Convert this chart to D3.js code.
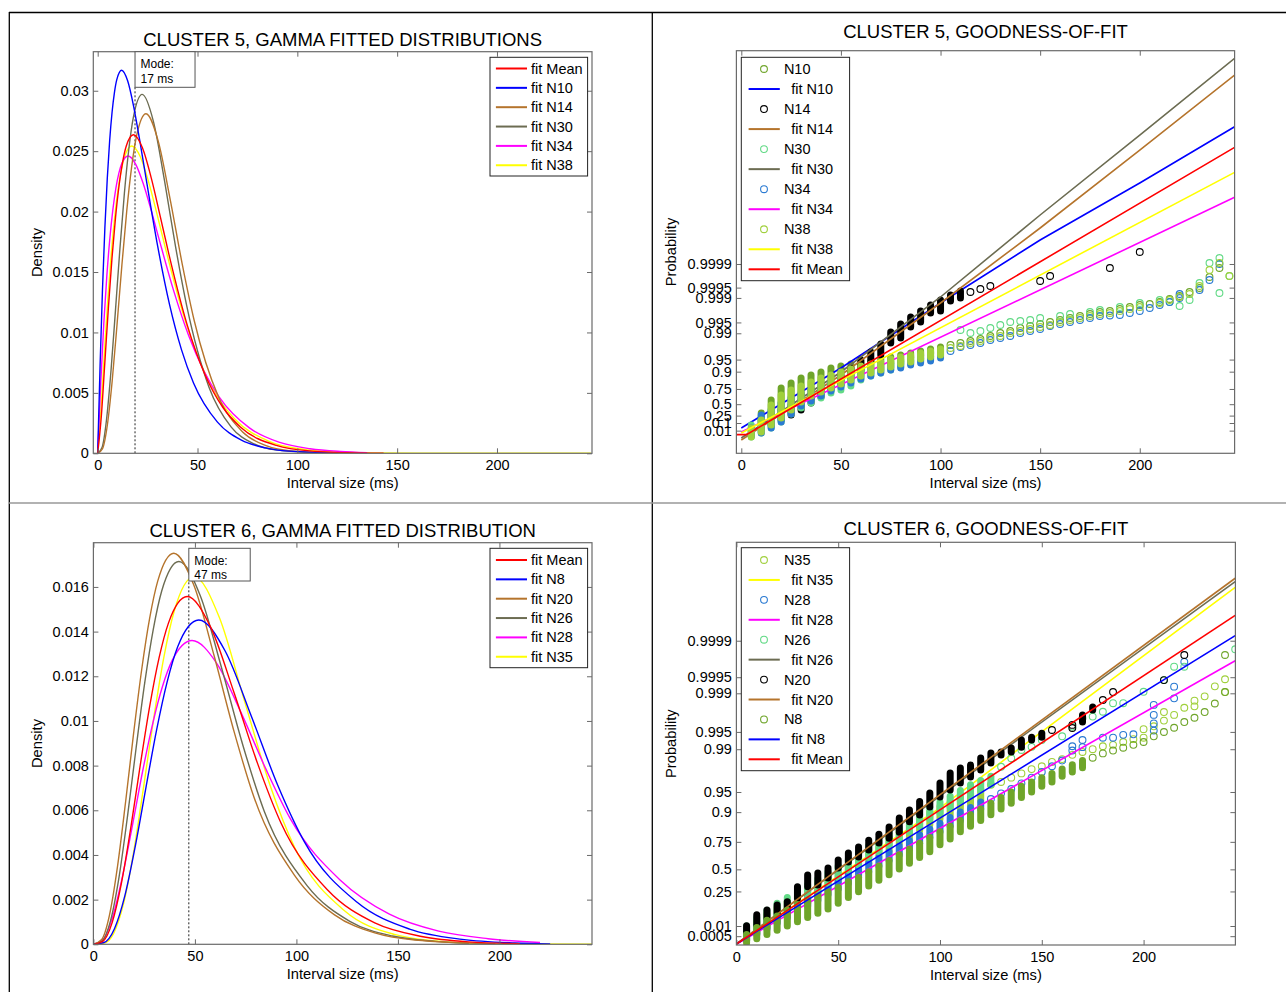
<!DOCTYPE html>
<html><head><meta charset="utf-8">
<script src="https://cdn.jsdelivr.net/npm/d3@7"></script>
<style>body{margin:0;background:#fff}svg{display:block}</style>
</head><body><svg id="c" width="1286" height="992"></svg>
<script>
// ================= DATA =================
const xTicks=[0,50,100,150,200];
const densTicksC5=[0,0.005,0.01,0.015,0.02,0.025,0.03];
const densTicksC6=[0,0.002,0.004,0.006,0.008,0.01,0.012,0.014,0.016];
const probTicksC5=[0.01,0.1,0.25,0.5,0.75,0.9,0.95,0.99,0.995,0.999,0.9995,0.9999];
const probTicksC6=[0.0005,0.01,0.25,0.5,0.75,0.9,0.95,0.99,0.995,0.999,0.9995,0.9999];
const refShapeC5=2.75, refShapeC6=4.55; // shape of the reference gamma used by the probability axis
const modeC5={line:18.7,label:"17 ms"};
const modeC6={line:47,label:"47 ms"};

// ---- Cluster 5 fitted densities [ms, density]
const c5FitMean=[[0,0],[1.79,0.003],[3.58,0.00752],[5.37,0.01207],[7.16,0.01615],[8.95,0.01954],[10.74,0.0222],[12.53,0.02414],[14.32,0.02543],[17.9,0.02636],[22.4,0.02528],[26.85,0.02277],[31.3,0.01963],[35.8,0.01638],[44.75,0.01067],[53.7,0.00652],[62.65,0.00381],[71.6,0.00216],[89.5,0.00065],[107.4,0.00018],[125.3,0.00005],[143.2,0.00001]];
const c5FitN10=[[0,0],[1.2,0.00727],[2.4,0.01355],[3.6,0.01867],[4.8,0.02274],[6,0.02588],[7.2,0.02822],[8.4,0.02987],[9.6,0.03094],[12,0.0317],[15,0.03082],[18,0.02871],[21,0.02595],[24,0.02297],[30,0.01718],[36,0.0123],[42,0.00856],[48,0.00582],[60,0.00258],[72,0.00109],[84,0.00045],[96,0.00018],[120,0.00003]];
const c5FitN14=[[0,0],[2.42,0.00038],[4.84,0.00234],[7.26,0.00598],[9.68,0.01064],[12.1,0.01553],[14.52,0.02],[16.94,0.02361],[19.36,0.02618],[24.2,0.0281],[30.25,0.02587],[36.3,0.02102],[42.35,0.01566],[48.4,0.01095],[60.5,0.00468],[72.6,0.00177],[84.7,0.00061],[96.8,0.0002],[121,0.00002]];
const c5FitN30=[[0,0],[2.23,0.00051],[4.46,0.00284],[6.69,0.00689],[8.92,0.01187],[11.15,0.01697],[13.38,0.02154],[15.61,0.0252],[17.84,0.02778],[22.3,0.0297],[27.9,0.02747],[33.45,0.02258],[39,0.0171],[44.6,0.0122],[55.75,0.00547],[66.9,0.00217],[78.05,0.0008],[89.2,0.00028],[111.5,0.00003]];
const c5FitN34=[[0,0],[1.52,0.0058],[3.04,0.01069],[4.56,0.01464],[6.08,0.01776],[7.6,0.02016],[9.12,0.02195],[10.64,0.0232],[12.16,0.02402],[15.2,0.0246],[19,0.02393],[22.8,0.02232],[26.6,0.02022],[30.4,0.01793],[38,0.01348],[45.6,0.00972],[53.2,0.00681],[60.8,0.00467],[76,0.0021],[91.2,0.0009],[106.4,0.00038],[121.6,0.00015],[135,0.00005]];
const c5FitN38=[[0,0],[1.71,0.00383],[3.42,0.00853],[5.13,0.01288],[6.84,0.01659],[8.55,0.01959],[10.26,0.0219],[11.97,0.02356],[13.68,0.02465],[17.1,0.02543],[21.4,0.02452],[25.65,0.02238],[29.9,0.01966],[34.2,0.0168],[42.75,0.01157],[51.3,0.00753],[59.85,0.00472],[68.4,0.00288],[85.5,0.00101],[102.6,0.00033],[119.7,0.00011],[136.8,0.00003],[170,0],[247,0]];

// ---- Cluster 6 fitted densities [ms, density]
const c6FitMean=[[0,0],[4.62,0.00013],[9.24,0.00097],[13.86,0.00276],[18.48,0.00526],[23.1,0.00803],[27.72,0.01065],[32.34,0.01282],[36.96,0.01438],[46.2,0.01557],[57.75,0.0142],[69.3,0.01126],[80.85,0.0081],[92.4,0.00543],[115.5,0.00242],[138.6,0.00096],[161.7,0.00035],[184.8,0.00011],[210,0.00003]];
const c6FitN8=[[0,0],[5.19,0.00008],[10.38,0.0007],[15.57,0.0022],[20.76,0.00445],[25.95,0.00705],[31.14,0.0096],[36.33,0.01175],[41.52,0.01332],[51.9,0.01452],[64.9,0.01313],[77.85,0.0102],[90.8,0.00712],[103.8,0.00461],[129.75,0.00189],[155.7,0.00068],[181.65,0.00022],[207.6,0.00006],[225,0.00002]];
const c6FitN20=[[0,0],[3.96,0.0002],[7.92,0.00131],[11.88,0.00349],[15.84,0.00636],[19.8,0.00944],[23.76,0.01228],[27.72,0.0146],[31.68,0.01626],[39.6,0.01751],[49.5,0.01607],[59.4,0.01294],[69.3,0.00952],[79.2,0.00656],[99,0.0031],[118.8,0.00132],[138.6,0.00051],[158.4,0.00019],[198,0.00002]];
const c6FitN26=[[0,0],[4.21,0.00014],[8.42,0.00105],[12.63,0.00301],[16.84,0.00576],[21.05,0.0088],[25.26,0.01169],[29.47,0.01409],[33.68,0.01583],[42.1,0.01714],[52.6,0.01562],[63.15,0.01237],[73.7,0.00889],[84.2,0.00595],[105.25,0.00263],[126.3,0.00103],[147.35,0.00037],[168.4,0.00013],[185,0.00004]];
const c6FitN28=[[0,0],[4.86,0.00023],[9.72,0.0013],[14.58,0.00315],[19.44,0.00543],[24.3,0.00777],[29.16,0.00986],[34.02,0.01154],[38.88,0.01272],[48.6,0.0136],[60.75,0.01258],[72.9,0.01034],[85.05,0.00783],[97.2,0.00559],[121.5,0.00288],[145.8,0.00135],[170.1,0.00059],[194.4,0.00025],[220,0.00008]];
const c6FitN35=[[0,0],[4.96,0.00004],[9.92,0.00048],[14.88,0.00183],[19.84,0.00414],[24.8,0.00709],[29.76,0.01015],[34.72,0.01286],[39.68,0.01488],[49.6,0.01646],[62,0.01464],[74.4,0.0109],[86.8,0.00718],[99.2,0.00432],[124,0.00148],[148.8,0.00043],[173.6,0.00011],[198.4,0.00002],[246,0]];

// ---- Cluster 5 goodness-of-fit. Ordinate = probability-plot score (0 at p=0.01, 100 at p=0.9999)
// stacks: [ms, scoreLow, scoreHigh] (many tied observations); points: [ms, score]
const c5N10Stacks=[[10,5.2,10.6],[15,10.6,18.4],[20,12.4,25.6],[25,18.4,28.6],[30,20.8,31.6],[35,24.4,33.4],[40,28.0,35.2],[45,31.0,37.6],[50,32.8,38.8],[55,35.2,40.0],[60,36.4,41.2],[65,37.6,41.8],[70,39.4,43.0],[75,40.6,44.2],[80,41.8,45.4],[85,43.6,46.6],[90,44.8,47.8],[95,46.0,49.0],[100,47.2,50.2]];
const c5N10Points=[[105,51.4],[110,52.6],[115,53.8],[120,55.0],[125,56.8],[130,58.6],[135,59.8],[140,61.6],[145,62.8],[150,64.0],[155,65.2],[160,66.4],[165,67.6],[170,68.8],[175,70.0],[180,71.2],[185,71.8],[190,73.0],[195,74.2],[200,75.4],[205,76.0],[210,77.2],[215,79.0],[220,80.8],[225,83.2],[230,85.6],[235,92.2],[240,97.6]];
const c5N14Stacks=[[15,3.4,9.4],[20,6.4,12.4],[25,9.4,15.4],[30,12.4,18.4],[35,16.6,22.0],[40,20.2,25.0],[45,24.4,28.0],[50,27.4,32.8],[55,31.6,37.6],[60,35.8,42.4],[65,41.2,47.2],[70,45.4,52.0],[75,52.6,59.2],[80,55.6,64.0],[85,62.2,68.2],[90,65.2,71.8],[95,70.6,75.4],[100,71.8,78.4],[105,77.8,81.4],[110,79.6,83.8]];
const c5N14Points=[[115,83.2],[120,85.0],[125,86.8],[150,89.8],[155,92.8],[185,97.6],[200,107.2]];
const c5N30Stacks=[[5,-3.8,3.4],[10,-1.4,7.6],[15,1.6,12.4],[20,5.2,16.6],[25,10.0,19.6],[30,13.6,22.0],[35,16.6,24.4],[40,19.6,26.8],[45,22.6,29.2],[50,24.4,32.2],[55,26.8,34.0],[60,30.4,36.4],[65,32.8,37.6],[70,34.6,39.4],[75,36.4,41.2],[80,38.2,42.4],[85,40.0,44.2],[90,41.8,45.4],[95,43.0,47.2],[100,44.8,48.4]];
const c5N30Points=[[110,60.4],[115,58.6],[120,59.8],[125,61.6],[130,63.4],[135,65.2],[140,65.8],[145,66.4],[150,67.6],[160,68.8],[165,70.0],[175,71.2],[180,72.4],[190,74.2],[200,76.6],[210,78.4],[215,77.2],[220,74.8],[225,78.4],[230,88.6],[235,100.6],[240,103.6],[240,82.6],[245,92.8]];
const c5N34Stacks=[[5,-3.2,1.6],[10,-1.4,9.4],[15,1.6,12.4],[20,5.2,16.6],[25,10.0,19.6],[30,14.8,22.6],[35,17.8,25.0],[40,20.8,26.8],[45,23.8,29.2],[50,26.2,31.6],[55,28.6,33.4],[60,31.0,35.2],[65,32.8,37.0],[70,34.6,38.2],[75,36.4,40.0],[80,37.6,41.2],[85,39.4,42.4],[90,40.6,43.6],[95,41.8,44.8],[100,43.6,46.6]];
const c5N34Points=[[105,47.8],[110,50.2],[115,51.4],[120,52.6],[125,54.4],[130,55.6],[135,56.8],[140,58.6],[145,59.8],[150,61.0],[155,62.8],[160,64.0],[165,65.2],[170,66.4],[175,67.6],[180,68.8],[185,69.1],[190,69.4],[195,70.6],[200,71.8],[205,73.6],[210,75.4],[215,77.2],[220,79.6],[220,82.0],[230,84.4],[235,90.4],[240,100.0]];
const c5N38Stacks=[[5,-3.8,1.6],[10,-0.8,6.4],[15,3.4,15.4],[20,7.6,21.4],[25,12.4,24.4],[30,17.2,26.8],[35,20.8,29.2],[40,23.2,31.6],[45,25.6,33.4],[50,28.0,35.2],[55,30.4,37.0],[60,32.8,38.8],[65,34.6,40.0],[70,36.4,41.2],[75,38.2,43.0],[80,40.0,44.2],[85,41.2,45.4],[90,43.0,46.6],[95,44.2,47.8],[100,45.4,49.0]];
const c5N38Points=[[105,49.6],[110,50.8],[115,52.6],[120,53.8],[125,55.6],[130,56.8],[135,58.6],[140,59.8],[145,61.0],[150,62.2],[155,63.4],[160,65.2],[165,66.4],[170,67.6],[175,68.8],[180,70.0],[185,70.6],[190,71.8],[195,73.0],[200,74.2],[210,76.6],[215,78.4],[220,80.2],[225,82.0],[230,86.8],[235,96.4],[240,100.6],[245,92.8]];
const c5LineN10=[[0,1.6],[50,37.6],[100,76.6],[150,114.4],[200,148.6],[247.6,182.4]];
const c5LineN14=[[0,-5.6],[50,33.4],[100,76.6],[150,121.6],[200,168.4],[247.6,213.4]];
const c5LineN30=[[0,-4.4],[50,35.2],[100,80.2],[150,129.4],[200,177.4],[247.6,223.4]];
const c5LineN34=[[0,-0.8],[247.6,140.0]];
const c5LineN38=[[0,-1.4],[247.6,155.0]];
const c5LineMean=[[-2.5,-2.4],[2.6,-2.4],[247.6,170.0]];

// ---- Cluster 6 goodness-of-fit
const c6N35Stacks=[[5,-5.0,-1.5],[10,-2.5,1.5],[15,-0.5,4.0],[20,1.5,6.5],[25,3.5,8.5],[30,5.5,10.5],[35,8.0,12.5],[40,10.5,15.0],[45,13.0,17.0],[50,15.0,19.5],[55,17.5,21.5],[60,19.5,24.0],[65,22.0,26.5],[70,24.5,28.5],[75,26.5,31.0],[80,29.0,33.0],[85,31.0,35.5],[90,33.5,37.5],[95,35.5,40.0],[100,37.5,42.0],[105,39.0,43.5],[110,41.0,45.0],[115,42.5,46.5],[120,44.0,48.0]];
const c6N35Points=[[125,49.5],[130,50.5],[135,52.0],[140,53.5],[145,55.0],[150,56.0],[155,57.5],[160,58.5],[165,60.0],[170,61.0],[175,62.0],[180,63.0],[185,63.5],[190,64.5],[195,65.5],[200,66.0],[200,69.0],[205,70.0],[210,72.0],[210,75.0],[215,74.0],[220,76.5],[225,77.0],[225,79.0],[230,80.5],[235,84.0],[240,86.5],[240,82.0]];
const c6N28Stacks=[[5,-5.0,-2.5],[10,-3.0,0.0],[15,-1.0,2.0],[20,1.0,4.0],[25,3.0,6.0],[30,5.0,8.0],[35,7.0,10.0],[40,9.0,12.0],[45,11.0,14.0],[50,13.0,16.0],[55,15.0,18.0],[60,17.0,20.0],[65,19.0,22.0],[70,21.0,24.0],[75,23.0,26.0],[80,25.0,28.0],[85,27.0,30.0],[90,29.0,32.0],[95,31.0,34.0],[100,33.0,36.0],[105,35.0,38.0],[110,37.0,40.0],[115,39.0,41.5],[120,41.0,43.5]];
const c6N28Points=[[125,44.5],[130,46.5],[135,48.0],[140,50.0],[145,52.0],[150,54.0],[155,56.0],[160,58.0],[165,61.5],[165,63.0],[170,62.7],[170,65.2],[180,66.0],[185,66.0],[190,67.0],[195,67.2],[205,68.5],[205,71.0],[205,74.0],[205,77.5],[215,79.8],[215,83.9],[220,92.6]];
const c6N26Stacks=[[5,-3.5,0.0],[10,-1.0,3.0],[15,1.5,5.5],[20,3.5,8.0],[25,5.5,10.0],[30,8.0,12.0],[35,10.5,14.5],[40,12.5,16.5],[45,15.0,19.0],[50,17.0,21.0],[55,19.5,23.5],[60,21.5,25.5],[65,24.0,28.0],[70,26.0,30.0],[75,28.5,32.5],[80,30.5,34.5],[85,33.0,37.0],[90,35.0,39.0],[95,37.5,41.5],[100,39.5,43.5],[105,41.5,45.5],[110,43.5,47.5],[115,45.5,49.5],[120,47.5,51.0],[125,49.5,52.5]];
const c6N26Points=[[130,55.8],[135,58.8],[140,61.7],[145,62.8],[150,65.2],[160,66.5],[165,69.9],[170,72.8],[175,73.4],[180,75.1],[185,78.1],[190,78.1],[200,82.1],[210,86.2],[215,90.9],[220,90.9],[245,97.0]];
const c6N20Stacks=[[5,-2.0,0.1],[10,0.4,3.9],[15,2.8,5.6],[20,4.6,7.4],[25,6.2,8.5],[30,9.7,13.8],[35,13.8,17.9],[40,14.4,18.6],[45,16.8,20.3],[50,20.3,23.1],[55,22.4,25.6],[60,24.2,27.7],[65,26.6,30.1],[70,29.1,32.2],[75,30.8,34.7],[80,32.9,37.9],[85,36.5,40.7],[90,38.9,43.6],[95,41.7,46.6],[100,45.2,50.1],[105,47.7,53.6],[110,50.1,55.4],[115,52.2,56.4],[120,54.7,58.9],[125,57.1,60.6],[130,59.9,61.0],[135,61.0,62.4],[140,62.7,65.2],[145,65.2,66.2],[150,66.2,67.6],[170,71.5,74.0],[175,75.7,76.8]];
const c6N20Points=[[155,68.7],[165,69.4],[165,70.5],[180,79.2],[185,82.0],[210,86.2],[220,95.0]];
const c6N8Stacks=[[5,-6.0,-3.0],[10,-4.5,-0.5],[15,-3.0,2.0],[20,-1.5,3.5],[25,0.0,5.5],[30,1.5,7.5],[35,3.0,9.0],[40,4.5,10.5],[45,6.0,12.0],[50,8.0,13.5],[55,10.0,15.5],[60,12.0,17.0],[65,14.0,19.0],[70,16.0,21.0],[75,18.0,23.0],[80,20.0,25.0],[85,22.0,27.0],[90,24.0,29.0],[95,26.0,31.0],[100,28.5,33.0],[105,30.5,35.0],[110,33.0,37.0],[115,35.0,39.0],[120,37.0,41.0],[125,39.0,43.0],[130,41.0,45.0],[135,43.0,47.0],[140,45.0,49.0],[145,47.0,50.5],[150,49.0,52.0],[155,50.5,53.5],[160,52.5,55.0],[165,54.0,56.5],[170,55.5,58.0]];
const c6N8Points=[[175,59.0],[180,60.5],[185,61.5],[190,62.5],[195,63.5],[200,64.5],[205,66.5],[210,68.0],[215,69.5],[220,71.5],[225,73.0],[230,75.0],[235,78.0],[240,82.0],[240,95.0]];
const c6LineN35=[[0,-6.3],[100,41.4],[245,118.7]];
const c6LineN28=[[0,-6.3],[245,93.0]];
const c6LineN26=[[0,-6.3],[245,120.7]];
const c6LineN20=[[0,-6.3],[245,121.9]];
const c6LineN8=[[0,-6.3],[245,101.8]];
const c6LineMean=[[0,-6.3],[245,108.9]];

// ================= STYLE =================
const FONT='Arial, "Liberation Sans", sans-serif';
const AX='#6a6a6a';
const C={red:'#ff0000',blue:'#0000ff',brown:'#b5742c',olive:'#6c6c52',magenta:'#ff00ff',yellow:'#ffff00',
  mOlive:'#6fa52a',mLight:'#62da86',mYG:'#a0d03c',mBlue:'#2a7ad2',mBlack:'#000000'};

// ================= GAMMA (probability axis) =================
function lnGamma(x){const c=[0.99999999999980993,676.5203681218851,-1259.1392167224028,771.32342877765313,-176.61502916214059,12.507343278686905,-0.13857109526572012,9.9843695780195716e-6,1.5056327351493116e-7];
  if(x<0.5)return Math.log(Math.PI/Math.sin(Math.PI*x))-lnGamma(1-x);x-=1;let a=c[0];const t=x+7.5;for(let i=1;i<9;i++)a+=c[i]/(x+i);
  return 0.5*Math.log(2*Math.PI)+(x+0.5)*Math.log(t)-t+Math.log(a);}
function gammaP(a,x){if(x<=0)return 0;const lf=-x+a*Math.log(x)-lnGamma(a);
  if(x<a+1){let ap=a,sum=1/a,del=sum;for(let n=0;n<1000;n++){ap+=1;del*=x/ap;sum+=del;if(Math.abs(del)<Math.abs(sum)*1e-16)break;}return sum*Math.exp(lf);}
  let b=x+1-a,c=1e300,d=1/b,h=d;for(let i=1;i<1000;i++){const an=-i*(i-a);b+=2;d=an*d+b;if(Math.abs(d)<1e-300)d=1e-300;c=b+an/c;if(Math.abs(c)<1e-300)c=1e-300;d=1/d;const del=d*c;h*=del;if(Math.abs(del-1)<1e-16)break;}
  return 1-Math.exp(lf)*h;}
function gammaInv(p,a){let lo=0,hi=200;for(let i=0;i<200;i++){const m=(lo+hi)/2;if(gammaP(a,m)<p)lo=m;else hi=m;}return (lo+hi)/2;}
function probScore(p,k){const q0=gammaInv(0.01,k),q1=gammaInv(0.9999,k);return 100*(gammaInv(p,k)-q0)/(q1-q0);}

// ================= DRAW =================
const svg=d3.select('#c');
svg.append('rect').attr('width',1286).attr('height',992).attr('fill','#fff');
const defs=svg.append('defs');
// page frame
svg.append('line').attr('x1',9).attr('x2',1286).attr('y1',12.5).attr('y2',12.5).attr('stroke','#000').attr('stroke-width',1.3);
svg.append('line').attr('x1',9.3).attr('x2',9.3).attr('y1',12).attr('y2',992).attr('stroke','#000').attr('stroke-width',1.3);
svg.append('line').attr('x1',652.3).attr('x2',652.3).attr('y1',12).attr('y2',992).attr('stroke','#000').attr('stroke-width',1.3);
svg.append('line').attr('x1',9).attr('x2',1286).attr('y1',503).attr('y2',503).attr('stroke','#999').attr('stroke-width',1.3);

function txt(g,x,y,s,size,anchor){return g.append('text').attr('x',x).attr('y',y).text(s).attr('font-family',FONT).attr('font-size',size).attr('text-anchor',anchor||'start').attr('fill','#000');}

function drawAxes(g,r,x,y,xVals,yVals,yFmt){
  const ax=[
    g.append('g').attr('transform',`translate(0,${r.y1})`).call(d3.axisBottom(x).tickValues(xVals).tickSize(-5).tickPadding(6.5).tickFormat(d3.format('d'))),
    g.append('g').attr('transform',`translate(0,${r.y0})`).call(d3.axisTop(x).tickValues(xVals).tickSize(-5).tickFormat('')),
    g.append('g').attr('transform',`translate(${r.x0},0)`).call(d3.axisLeft(y).tickValues(yVals).tickSize(-5).tickPadding(4.5).tickFormat(yFmt)),
    g.append('g').attr('transform',`translate(${r.x1},0)`).call(d3.axisRight(y).tickValues(yVals).tickSize(-5).tickFormat(''))];
  ax.forEach(a=>{a.select('.domain').remove();a.selectAll('line').attr('stroke',AX).attr('stroke-width',1);
    a.attr('font-size',null).attr('font-family',null);a.selectAll('text').attr('font-size',14.5).attr('font-family',FONT).attr('fill','#000');});
  g.append('rect').attr('x',r.x0).attr('y',r.y0).attr('width',r.x1-r.x0).attr('height',r.y1-r.y0).attr('fill','none').attr('stroke',AX).attr('stroke-width',1.2);
}
function clip(id,r){defs.append('clipPath').attr('id',id).append('rect').attr('x',r.x0).attr('y',r.y0).attr('width',r.x1-r.x0).attr('height',r.y1-r.y0);return `url(#${id})`;}
function legend(g,box,rows,entries,lineX,textX,circX,circTextX){
  g.append('rect').attr('x',box.x).attr('y',box.y).attr('width',box.w).attr('height',box.h).attr('fill','#fff').attr('stroke','#222').attr('stroke-width',1);
  entries.forEach((e,i)=>{const cy=rows.y0+i*rows.dy;
    if(e.type==='line'){g.append('line').attr('x1',lineX[0]).attr('x2',lineX[1]).attr('y1',cy).attr('y2',cy).attr('stroke',e.color).attr('stroke-width',2);txt(g,textX,cy+5,e.label,14.5);}
    else{g.append('circle').attr('cx',circX).attr('cy',cy).attr('r',3.4).attr('fill','none').attr('stroke',e.color).attr('stroke-width',1.1);txt(g,circTextX,cy+5,e.label,14.5);}
  });
}
const densFmt=d=>d===0?'0':d3.format('~g')(d);

// ---------- density panels ----------
function densityPanel(o){
  const g=svg.append('g');const r=o.r;
  const x=d3.scaleLinear().domain(o.xDom).range([r.x0,r.x1]);
  const y=d3.scaleLinear().domain(o.yDom).range([r.y1,r.y0]);
  const cp=clip(o.id,r);
  const line=d3.line().x(d=>x(d[0])).y(d=>y(d[1])).curve(d3.curveMonotoneX);
  const dg=g.append('g').attr('clip-path',cp);
  // mode marker
  const mx=x(o.mode.line);
  dg.append('line').attr('x1',mx).attr('x2',mx).attr('y1',r.y1).attr('y2',o.modeBox.y+o.modeBox.h).attr('stroke','#222').attr('stroke-width',1).attr('stroke-dasharray','2,2');
  o.series.forEach(s=>dg.append('path').datum(s.data).attr('d',line).attr('fill','none').attr('stroke',s.color).attr('stroke-width',1.4));
  drawAxes(g,r,x,y,xTicks,o.yTicks,densFmt);
  g.append('rect').attr('x',mx).attr('y',o.modeBox.y).attr('width',o.modeBox.w).attr('height',o.modeBox.h).attr('fill','#fff').attr('stroke','#555').attr('stroke-width',1);
  txt(g,mx+5.5,o.modeBox.y+16.5,'Mode:',12);
  txt(g,mx+5.5,o.modeBox.y+31,o.mode.label,12);
  txt(g,(r.x0+r.x1)/2,o.titleY,o.title,18.5,'middle');
  txt(g,(r.x0+r.x1)/2,r.y1+35,'Interval size (ms)',14.7,'middle');
  txt(g,0,0,'Density',14.7,'middle').attr('transform',`translate(41.5,${(r.y0+r.y1)/2})rotate(-90)`);
  legend(g,o.legBox,o.legRows,o.legend,[495.9,527],531);
}

densityPanel({id:'cTL',r:{x0:93.3,x1:592,y0:51.7,y1:453.3},xDom:[-2.2,247.6],yDom:[0,0.03323],yTicks:densTicksC5,
  title:'CLUSTER 5, GAMMA FITTED DISTRIBUTIONS',titleY:45.5,mode:modeC5,modeBox:{y:51.7,w:60,h:35.6},
  series:[{data:c5FitN38,color:C.yellow},{data:c5FitN34,color:C.magenta},{data:c5FitN30,color:C.olive},{data:c5FitN14,color:C.brown},{data:c5FitN10,color:C.blue},{data:c5FitMean,color:C.red}],
  legBox:{x:490,y:57.3,w:97.6,h:118.7},legRows:{y0:68.5,dy:19.35},
  legend:[{type:'line',color:C.red,label:'fit Mean'},{type:'line',color:C.blue,label:'fit N10'},{type:'line',color:C.brown,label:'fit N14'},{type:'line',color:C.olive,label:'fit N30'},{type:'line',color:C.magenta,label:'fit N34'},{type:'line',color:C.yellow,label:'fit N38'}]});

densityPanel({id:'cBL',r:{x0:93.4,x1:592,y0:542.7,y1:944.3},xDom:[0,245.6],yDom:[0,0.01798],yTicks:densTicksC6,
  title:'CLUSTER 6, GAMMA FITTED DISTRIBUTION',titleY:536.5,mode:modeC6,modeBox:{y:548.3,w:61.4,h:32.7},
  series:[{data:c6FitN35,color:C.yellow},{data:c6FitN28,color:C.magenta},{data:c6FitN26,color:C.olive},{data:c6FitN20,color:C.brown},{data:c6FitN8,color:C.blue},{data:c6FitMean,color:C.red}],
  legBox:{x:490,y:548.3,w:97.6,h:119.4},legRows:{y0:560,dy:19.35},
  legend:[{type:'line',color:C.red,label:'fit Mean'},{type:'line',color:C.blue,label:'fit N8'},{type:'line',color:C.brown,label:'fit N20'},{type:'line',color:C.olive,label:'fit N26'},{type:'line',color:C.magenta,label:'fit N28'},{type:'line',color:C.yellow,label:'fit N35'}]});

// ---------- probability panels ----------
function probPanel(o){
  const g=svg.append('g');const r=o.r;
  const x=d3.scaleLinear().domain(o.xDom).range([r.x0,r.x1]);
  const y=d3.scaleLinear().domain(o.yDom).range([r.y1,r.y0]);
  const cp=clip(o.id,r);
  const dg=g.append('g').attr('clip-path',cp);
  const line=d3.line().x(d=>x(d[0])).y(d=>y(d[1]));
  o.layers.forEach(L=>{
    if(L.stacks){dg.append('g').selectAll('line').data(L.stacks).join('line').attr('x1',d=>x(d[0])).attr('x2',d=>x(d[0])).attr('y1',d=>y(d[1])).attr('y2',d=>y(d[2]))
      .attr('stroke',L.color).attr('stroke-width',7).attr('stroke-linecap','round');}
    if(L.points){dg.append('g').selectAll('circle').data(L.points).join('circle').attr('cx',d=>x(d[0])).attr('cy',d=>y(d[1])).attr('r',3.4)
      .attr('fill','none').attr('stroke',L.color).attr('stroke-width',1.1);}
    if(L.line){dg.append('path').datum(L.line).attr('d',line).attr('fill','none').attr('stroke',L.color).attr('stroke-width',1.6);}
  });
  const tv=o.probTicks.map(p=>probScore(p,o.shape));
  const lab=new Map(tv.map((v,i)=>[v,String(o.probTicks[i])]));
  drawAxes(g,r,x,y,xTicks,tv,d=>lab.get(d));
  txt(g,(r.x0+r.x1)/2,o.titleY,o.title,18.5,'middle');
  txt(g,(r.x0+r.x1)/2,r.y1+35,'Interval size (ms)',14.7,'middle');
  txt(g,0,0,'Probability',14.7,'middle').attr('transform',`translate(675.5,${(r.y0+r.y1)/2})rotate(-90)`);
  legend(g,o.legBox,o.legRows,o.legend,[748.6,779.8],791.2,764,783.9);
}

probPanel({id:'cTR',r:{x0:736.4,x1:1234.6,y0:50.7,y1:453.3},xDom:[-2.46,247.6],yDom:[-13.6,228],shape:refShapeC5,probTicks:probTicksC5,
  title:'CLUSTER 5, GOODNESS-OF-FIT',titleY:38,
  layers:[{stacks:c5N10Stacks,points:c5N10Points,color:C.mOlive},{line:c5LineN10,color:C.blue},
          {stacks:c5N14Stacks,points:c5N14Points,color:C.mBlack},{line:c5LineN14,color:C.brown},
          {stacks:c5N30Stacks,points:c5N30Points,color:C.mLight},{line:c5LineN30,color:C.olive},
          {stacks:c5N34Stacks,points:c5N34Points,color:C.mBlue},{line:c5LineN34,color:C.magenta},
          {stacks:c5N38Stacks,points:c5N38Points,color:C.mYG},{line:c5LineN38,color:C.yellow},
          {line:c5LineMean,color:C.red}],
  legBox:{x:741.3,y:57.3,w:108.3,h:223.4},legRows:{y0:69,dy:20.03},
  legend:[{type:'c',color:C.mOlive,label:'N10'},{type:'line',color:C.blue,label:'fit N10'},{type:'c',color:C.mBlack,label:'N14'},{type:'line',color:C.brown,label:'fit N14'},
          {type:'c',color:C.mLight,label:'N30'},{type:'line',color:C.olive,label:'fit N30'},{type:'c',color:C.mBlue,label:'N34'},{type:'line',color:C.magenta,label:'fit N34'},
          {type:'c',color:C.mYG,label:'N38'},{type:'line',color:C.yellow,label:'fit N38'},{type:'line',color:C.red,label:'fit Mean'}]});

probPanel({id:'cBR',r:{x0:736.4,x1:1235.4,y0:542.3,y1:945},xDom:[0,245.1],yDom:[-6.66,134.5],shape:refShapeC6,probTicks:probTicksC6,
  title:'CLUSTER 6, GOODNESS-OF-FIT',titleY:534.5,
  layers:[{stacks:c6N35Stacks,points:c6N35Points,color:C.mYG},{line:c6LineN35,color:C.yellow},
          {stacks:c6N28Stacks,points:c6N28Points,color:C.mBlue},{line:c6LineN28,color:C.magenta},
          {stacks:c6N26Stacks,points:c6N26Points,color:C.mLight},{line:c6LineN26,color:C.olive},
          {stacks:c6N20Stacks,points:c6N20Points,color:C.mBlack},{line:c6LineN20,color:C.brown},
          {stacks:c6N8Stacks,points:c6N8Points,color:C.mOlive},{line:c6LineN8,color:C.blue},
          {line:c6LineMean,color:C.red}],
  legBox:{x:741.3,y:547.7,w:108.3,h:223},legRows:{y0:560,dy:19.93},
  legend:[{type:'c',color:C.mYG,label:'N35'},{type:'line',color:C.yellow,label:'fit N35'},{type:'c',color:C.mBlue,label:'N28'},{type:'line',color:C.magenta,label:'fit N28'},
          {type:'c',color:C.mLight,label:'N26'},{type:'line',color:C.olive,label:'fit N26'},{type:'c',color:C.mBlack,label:'N20'},{type:'line',color:C.brown,label:'fit N20'},
          {type:'c',color:C.mOlive,label:'N8'},{type:'line',color:C.blue,label:'fit N8'},{type:'line',color:C.red,label:'fit Mean'}]});
</script></body></html>
